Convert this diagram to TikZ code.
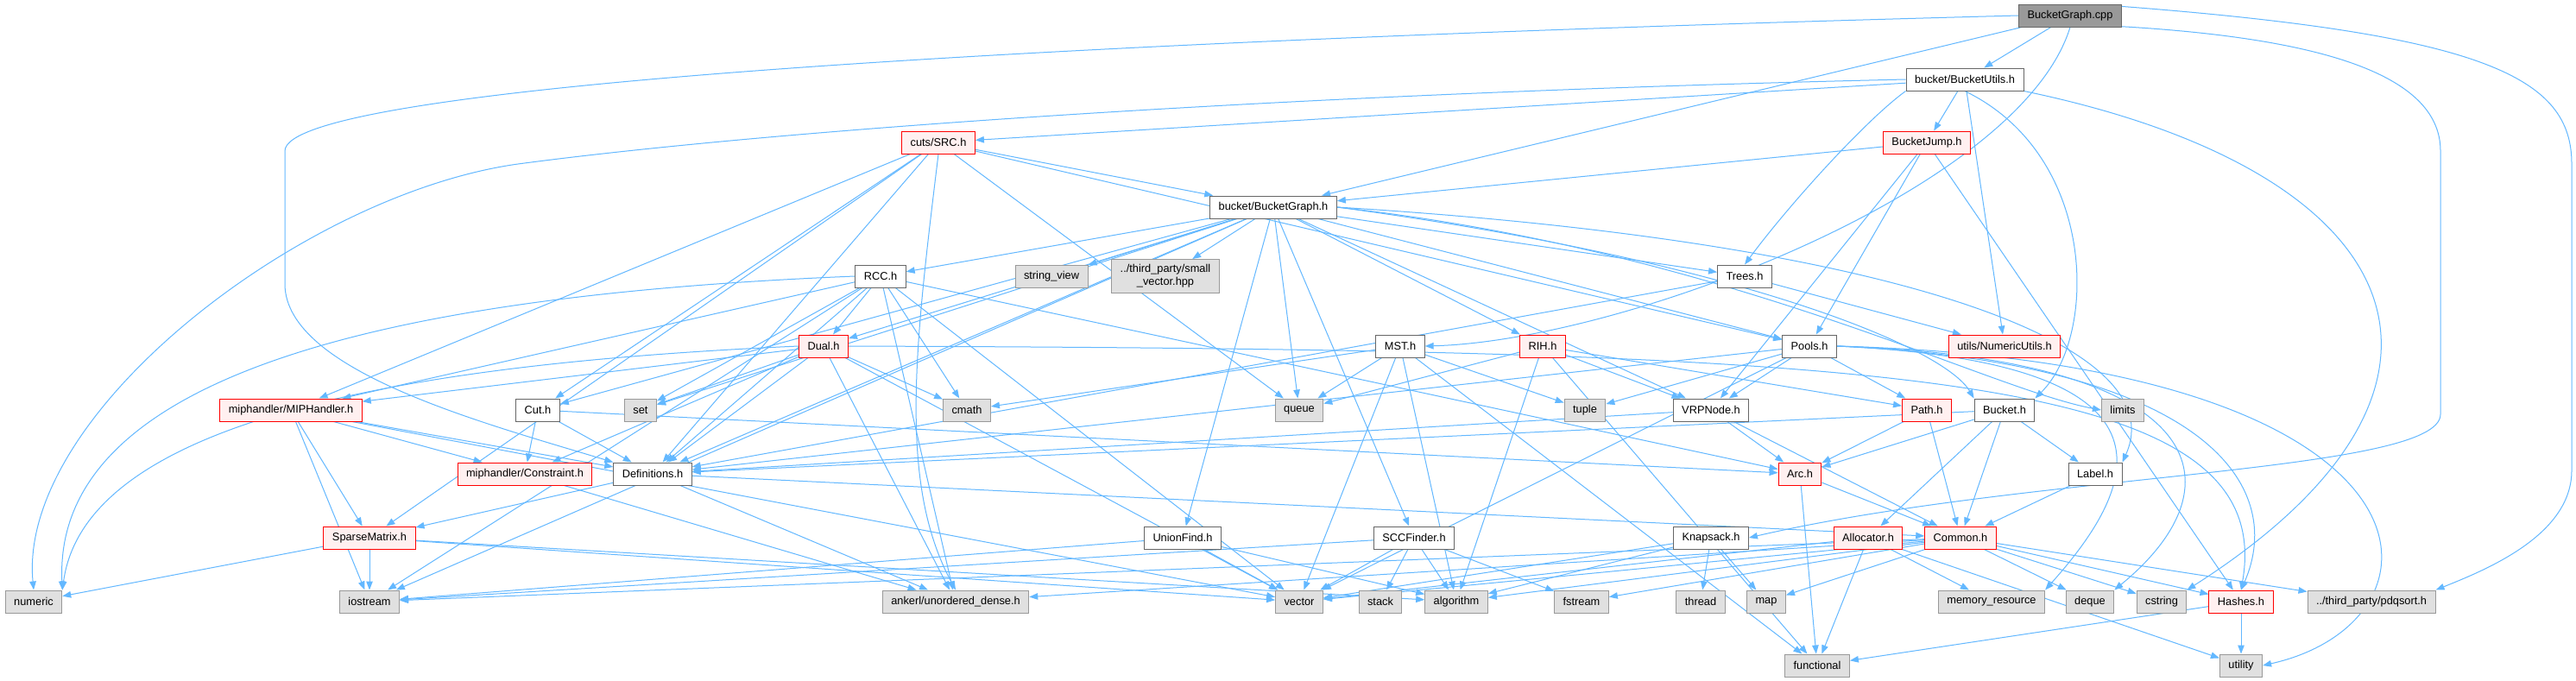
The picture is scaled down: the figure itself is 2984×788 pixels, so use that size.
\documentclass[tikz,border=0pt]{standalone}
\usepackage{fontspec}
\setmainfont{Liberation Sans}
\usetikzlibrary{arrows.meta,backgrounds}
\definecolor{edgec}{HTML}{63B8FF}
\definecolor{redb}{HTML}{FF0000}
\definecolor{redf}{HTML}{FFF0F0}
\definecolor{grayb}{HTML}{666666}
\definecolor{sysb}{HTML}{999999}
\definecolor{sysf}{HTML}{E0E0E0}
\definecolor{cppf}{HTML}{999999}
\begin{document}
\begin{tikzpicture}[x=1pt,y=-1pt,
  font=\fontsize{12.8}{15}\selectfont,
  box/.style={draw, rectangle, minimum height=26pt, inner xsep=10pt, inner ysep=3pt, line width=1pt},
  nrmnode/.style={box, draw=grayb, fill=white},
  rednode/.style={box, draw=redb, fill=redf},
  sysnode/.style={box, draw=sysb, fill=sysf},
  topnode/.style={box, draw=grayb, fill=cppf},
  inc/.style={draw=edgec, line width=1pt, -{Triangle[length=10pt,width=7.5pt]}}]
\useasboundingbox (0,0) rectangle (2984,788);
% nodes
\node[topnode] (cpp) at (2398,18) {BucketGraph.cpp};
\node[nrmnode] (bu) at (2276,92) {bucket/BucketUtils.h};
\node[rednode] (src) at (1087,165) {cuts/SRC.h};
\node[rednode] (bj) at (2232,165) {BucketJump.h};
\node[nrmnode] (bgh) at (1475,240) {bucket/BucketGraph.h};
\node[nrmnode] (rcc) at (1020,320) {RCC.h};
\node[sysnode] (sv) at (1218,320) {string\_view};
\node[sysnode, align=center, inner ysep=6pt] (smv) at (1350,320) {../third\_party/small\\\_vector.hpp};
\node[nrmnode] (trees) at (2021,320) {Trees.h};
\node[rednode] (nu) at (2322,401) {utils/NumericUtils.h};
\node[rednode] (dual) at (954,401) {Dual.h};
\node[nrmnode] (mst) at (1622,401) {MST.h};
\node[rednode] (rih) at (1787,401) {RIH.h};
\node[nrmnode] (pools) at (2096,401) {Pools.h};
\node[rednode] (mip) at (337,475) {miphandler/MIPHandler.h};
\node[nrmnode] (cut) at (623,475) {Cut.h};
\node[sysnode] (set) at (742,475) {set};
\node[sysnode] (cmath) at (1120,475) {cmath};
\node[sysnode] (queue) at (1505,475) {queue};
\node[sysnode] (tuple) at (1836,475) {tuple};
\node[nrmnode] (vrp) at (1982,475) {VRPNode.h};
\node[rednode] (pathh) at (2232,475) {Path.h};
\node[nrmnode] (bucket) at (2322,475) {Bucket.h};
\node[sysnode] (limits) at (2459,475) {limits};
\node[rednode] (cons) at (608,549) {miphandler/Constraint.h};
\node[nrmnode] (defs) at (756,549) {Definitions.h};
\node[rednode] (arc) at (2085,549) {Arc.h};
\node[nrmnode] (label) at (2427,549) {Label.h};
\node[rednode] (sparse) at (428,623) {SparseMatrix.h};
\node[nrmnode] (uf) at (1370,623) {UnionFind.h};
\node[nrmnode] (scc) at (1638,623) {SCCFinder.h};
\node[nrmnode] (knap) at (1982,623) {Knapsack.h};
\node[rednode] (alloc) at (2164,623) {Allocator.h};
\node[rednode] (common) at (2271,623) {Common.h};
\node[sysnode] (numeric) at (39,697) {numeric};
\node[sysnode] (iostream) at (428,697) {iostream};
\node[sysnode] (ankerl) at (1107,697) {ankerl/unordered\_dense.h};
\node[sysnode] (vector) at (1505,697) {vector};
\node[sysnode] (stack) at (1599,697) {stack};
\node[sysnode] (algorithm) at (1687,697) {algorithm};
\node[sysnode] (fstream) at (1832,697) {fstream};
\node[sysnode] (thread) at (1970,697) {thread};
\node[sysnode] (map) at (2046,697) {map};
\node[sysnode] (memres) at (2307,697) {memory\_resource};
\node[sysnode] (deque) at (2421,697) {deque};
\node[sysnode] (cstring) at (2504,697) {cstring};
\node[rednode] (hashes) at (2596,697) {Hashes.h};
\node[sysnode] (pdq) at (2747,697) {../third\_party/pdqsort.h};
\node[sysnode] (functional) at (2105,771) {functional};
\node[sysnode] (utility) at (2596,771) {utility};
% edges
\begin{scope}[on background layer]
\fill[white] (0,0) rectangle (2984,788);
\foreach \a/\b in {cpp/bu, cpp/bgh,
  bu/src, bu/bj, bu/nu,
  bj/bgh, bj/pools, bj/vrp, bj/hashes,
  src/bgh, src/mip, src/defs, src/cut, src/pools, src/queue, src/sparse,
  bgh/rcc, bgh/sv, bgh/smv, bgh/trees, bgh/dual, bgh/defs, bgh/cut, bgh/set, bgh/queue, bgh/rih, bgh/vrp, bgh/pools, bgh/uf, bgh/scc, bgh/iostream,
  trees/defs, trees/nu,
  rcc/dual, rcc/set, rcc/cmath, rcc/mip, rcc/defs, rcc/ankerl, rcc/vector, rcc/iostream, rcc/arc,
  dual/set, dual/cmath, dual/mip, dual/cons, dual/defs, dual/ankerl, dual/vector,
  mst/cmath, mst/queue, mst/tuple, mst/vector, mst/algorithm, mst/functional,
  rih/queue, rih/vrp, rih/pathh, rih/algorithm, rih/functional,
  pools/vrp, pools/tuple, pools/pathh, pools/defs, pools/vector,
  cut/cons, cut/defs, cut/arc,
  defs/sparse, defs/common, defs/ankerl,
  mip/cons, mip/sparse, mip/defs, mip/iostream, mip/vector,
  cons/ankerl,
  sparse/numeric, sparse/iostream, sparse/vector, sparse/algorithm,
  vrp/defs, vrp/arc, vrp/common,
  pathh/arc, pathh/common,
  bucket/arc, bucket/common, bucket/label, bucket/alloc, bucket/defs,
  arc/functional, arc/common,
  label/common,
  alloc/memres, alloc/functional, alloc/utility, alloc/vector,
  common/vector, common/iostream, common/algorithm, common/ankerl, common/fstream, common/map, common/deque, common/cstring, common/hashes, common/pdq,
  hashes/functional, hashes/utility,
  knap/thread, knap/map, knap/algorithm, knap/vector,
  scc/vector, scc/stack, scc/algorithm, scc/fstream, scc/iostream,
  uf/vector, uf/iostream, uf/algorithm}
  \draw[inc] (\a) -- (\b);
% curved long edges
\draw[inc] (cpp.west) .. controls (1200,48) and (330,100) .. (330,175) -- (330,330) .. controls (332,430) and (560,490) .. (defs.north west);
\draw[inc] (cpp.-12) .. controls (2700,45) and (2827,90) .. (2827,175) -- (2827,480) .. controls (2827,548) and (2350,548) .. (knap.east);
\draw[inc] (cpp.10) .. controls (2880,40) and (2979,90) .. (2979,190) -- (2979,545) .. controls (2979,620) and (2880,660) .. (pdq.north east);
\draw[inc] (cpp.south) .. controls (2340,220) and (1880,395) .. (mst.east);
\draw[inc] (bu.west) .. controls (1500,108) and (900,150) .. (600,190) .. controls (350,225) and (20,480) .. (numeric.north);
\draw[inc] (bu.south west) .. controls (2160,140) and (2070,240) .. (trees.north);
\draw[inc] (bu.south) .. controls (2430,180) and (2430,390) .. (bucket.north east);
\draw[inc] (bu.south east) .. controls (2800,200) and (2900,450) .. (cstring.north east);
\draw[inc] (src.south) .. controls (1060,400) and (1040,560) .. (ankerl.north);
\draw[inc] (rcc.west) .. controls (500,340) and (60,420) .. (numeric.north east);
\draw[inc] (dual.west) .. controls (500,420) and (100,480) .. (numeric.north east);
\draw[inc] (pools.east) .. controls (2560,415) and (2600,560) .. (deque.north east);
\draw[inc] (pools.east) .. controls (2540,420) and (2480,560) .. (memres.north east);
\draw[inc] (pools.east) .. controls (2850,420) and (2850,720) .. (utility.east);
\draw[inc] (pools.east) .. controls (2550,420) and (2650,560) .. (hashes.north);
\draw[inc] (dual.east) .. controls (2200,405) and (2640,430) .. (hashes.north);
\draw[inc] (bgh.east) .. controls (2000,300) and (2250,400) .. (bucket.north west);
\draw[inc] (bgh.east) .. controls (2200,280) and (2520,400) .. (label.north east);
\draw[inc] (bgh.east) .. controls (2000,290) and (2300,450) .. (limits.west);
\end{scope}
\end{tikzpicture}
\end{document}
